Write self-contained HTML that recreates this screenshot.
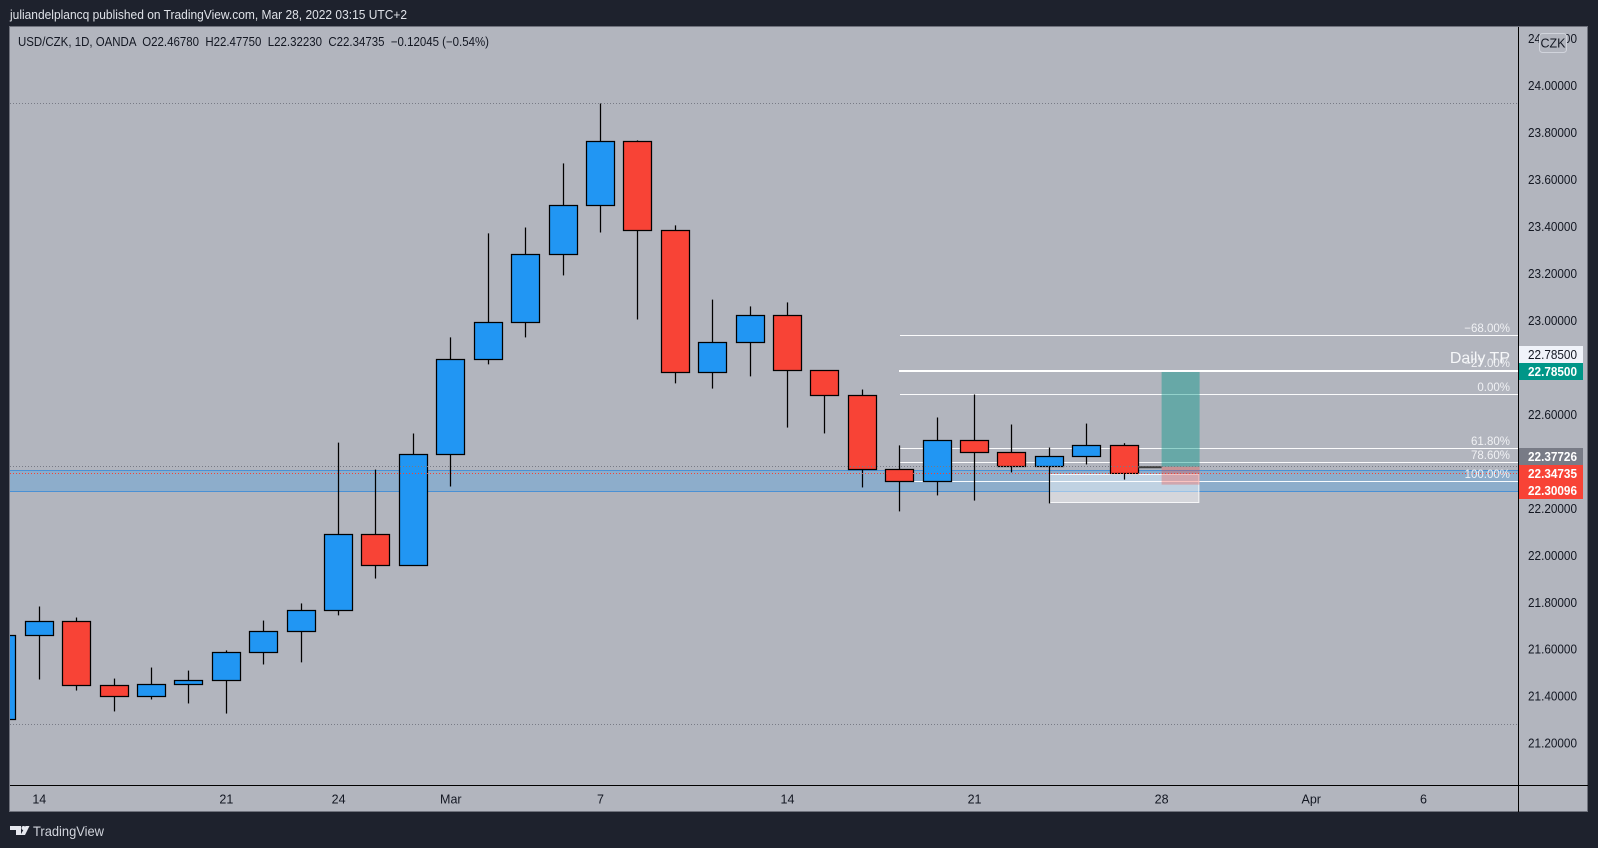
<!DOCTYPE html>
<html lang="en">
<head>
<meta charset="utf-8">
<title>USD/CZK 1D chart</title>
<style>
html,body{margin:0;padding:0;background:#1e222d;width:1598px;height:848px;overflow:hidden}
svg{display:block;font-family:"Liberation Sans",sans-serif}
text{white-space:pre}
</style>
</head>
<body>
<svg id="chart" width="1598" height="848" viewBox="0 0 1598 848" xmlns="http://www.w3.org/2000/svg">
  <defs>
    <clipPath id="paneClip"><rect x="10" y="27" width="1508" height="758"/></clipPath>
  </defs>
  <rect x="0" y="0" width="1598" height="848" fill="#1e222d"/>
  <text x="10" y="19" font-size="13" fill="#dfe2e8" textLength="397" lengthAdjust="spacingAndGlyphs">juliandelplancq published on TradingView.com, Mar 28, 2022 03:15 UTC+2</text>
  <rect x="9.5" y="26.5" width="1578" height="785" fill="#b2b5be" stroke="#6f727c" stroke-width="1"/>
  <g id="drawBelow" clip-path="url(#paneClip)"></g>
  <g id="candles" clip-path="url(#paneClip)"></g>
  <g id="drawAbove" clip-path="url(#paneClip)"></g>
  <g id="fibText"></g>
  <line x1="1518.5" y1="27" x2="1518.5" y2="812" stroke="#000" stroke-width="1"/>
  <line x1="10" y1="785.5" x2="1588" y2="785.5" stroke="#000" stroke-width="1"/>
  <g id="priceAxis"></g>
  <g id="timeAxis"></g>
  <text x="18" y="46" font-size="12.5" fill="#131722" textLength="471" lengthAdjust="spacingAndGlyphs">USD/CZK, 1D, OANDA  O22.46780  H22.47750  L22.32230  C22.34735  −0.12045 (−0.54%)</text>
  <g>
    <rect x="1539.5" y="33.5" width="27" height="19" rx="3" fill="#b2b5be" stroke="#d1d4dc" stroke-width="1"/>
    <text x="1553" y="47.5" font-size="12.5" fill="#131722" text-anchor="middle">CZK</text>
  </g>
  <g id="priceTags"></g>
  <g>
    <path d="M10 826h11v9h-5v-5h-6z M25.500 826h4l-4.500 9h-4.500z" fill="#e6e8ee"/>
    <circle cx="23.500" cy="828" r="2" fill="#e6e8ee"/>
    <text x="33" y="836" font-size="14" fill="#d1d4dc" textLength="71" lengthAdjust="spacingAndGlyphs">TradingView</text>
  </g>
</svg>
<script>
const categories = ['Feb 11','Feb 14','Feb 15','Feb 16','Feb 17','Feb 18','Feb 21','Feb 22','Feb 23','Feb 24','Feb 25','Feb 28','Mar 1','Mar 2','Mar 3','Mar 4','Mar 7','Mar 8','Mar 9','Mar 10','Mar 11','Mar 14','Mar 15','Mar 16','Mar 17','Mar 18','Mar 21','Mar 22','Mar 23','Mar 24','Mar 25','Mar 28','Mar 29','Mar 30','Mar 31','Apr 1','Apr 4','Apr 5','Apr 6'];
const opens = [21.301,21.658,21.718,21.446,21.399,21.450,21.467,21.586,21.676,21.765,22.089,21.957,22.429,22.834,22.992,23.281,23.490,23.762,23.383,22.779,22.906,23.021,22.787,22.681,22.365,22.314,22.489,22.438,22.378,22.421,22.4678];
const highs = [21.700,21.782,21.735,21.475,21.522,21.509,21.595,21.722,21.795,22.480,22.365,22.519,22.928,23.371,23.396,23.669,23.924,23.767,23.405,23.089,23.060,23.077,22.787,22.706,22.468,22.587,22.685,22.557,22.459,22.561,22.4775];
const lows = [21.280,21.471,21.424,21.335,21.386,21.369,21.326,21.535,21.544,21.744,21.901,21.957,22.293,22.813,22.928,23.192,23.375,23.004,22.732,22.710,22.762,22.544,22.519,22.289,22.187,22.255,22.233,22.353,22.221,22.387,22.3223];
const closes = [21.658,21.718,21.446,21.399,21.450,21.467,21.586,21.676,21.765,22.089,21.957,22.429,22.834,22.992,23.281,23.490,23.762,23.383,22.779,22.906,23.021,22.787,22.681,22.365,22.314,22.489,22.438,22.378,22.421,22.468,22.34735];
const priceTicks = [24.2,24.0,23.8,23.6,23.4,23.2,23.0,22.8,22.6,22.4,22.2,22.0,21.8,21.6,21.4,21.2];
const timeTickCategories = ['Feb 14','Feb 21','Feb 24','Mar 1','Mar 7','Mar 14','Mar 21','Mar 28','Apr 1','Apr 6'];
const timeTickLabels = ['14','21','24','Mar','7','14','21','28','Apr','6'];
const fibLevels = [-0.68,-0.27,0,0.618,0.786,1];
const fibLabels = ['−68.00%','−27.00%','0.00%','61.80%','78.60%','100.00%'];
const fibAnchorHigh = 22.685;
const fibAnchorLow = 22.314;
const dottedHigh = 23.924;
const dottedLow = 21.280;
const lastPrice = 22.37726;
const closePrice = 22.34735;
const targetPrice = 22.785;
const stopPrice = 22.30096;
const zoneTop = 22.360;
const zoneBottom = 22.270;
const boxTop = 22.345;
const boxBottom = 22.223;

const NS = 'http://www.w3.org/2000/svg';
const PX_PER_PRICE = 234.8;
const X_ZERO = 1.89, X_STEP = 37.41;
function yAt(p){ return 85.7 + (24 - p) * PX_PER_PRICE; }
function xAt(i){ return X_ZERO + X_STEP * i; }
function xOf(cat){ return xAt(categories.indexOf(cat)); }
function snap(v){ return Math.floor(v) + 0.5; }
function mk(tag, parent, attrs){
  const el = document.createElementNS(NS, tag);
  for (const k in attrs) el.setAttribute(k, attrs[k]);
  parent.appendChild(el);
  return el;
}
const below = document.getElementById('drawBelow');
const candlesG = document.getElementById('candles');
const above = document.getElementById('drawAbove');
const fibText = document.getElementById('fibText');
const priceAxis = document.getElementById('priceAxis');
const timeAxis = document.getElementById('timeAxis');
const priceTags = document.getElementById('priceTags');

/* support zone */
const zone = mk('rect', below, {x:10, y:snap(yAt(zoneTop)), width:1508, height:snap(yAt(zoneBottom))-snap(yAt(zoneTop)), fill:'#2196f3', 'fill-opacity':0.25});


[zoneTop, zoneBottom].forEach(function(p){
  const l = mk('line', below, {x1:10, x2:1518, y1:snap(yAt(p)), y2:snap(yAt(p)), stroke:'#4a90d4', 'stroke-width':1});
  
  
});

/* white selection box */
const box = mk('rect', below, {x:xOf('Mar 23')+0.5, y:snap(yAt(boxTop)), width:149, height:snap(yAt(boxBottom))-snap(yAt(boxTop)), fill:'#ffffff', 'fill-opacity':0.45, stroke:'#ffffff', 'stroke-opacity':0.85, 'stroke-width':1});



/* fib levels */
fibLevels.forEach(function(level, i){
  const p = fibAnchorHigh + (fibAnchorLow - fibAnchorHigh) * level;
  const y = snap(yAt(p));
  const l = mk('line', below, {x1:900, x2:1518, y1:y, y2:y, stroke:'#ffffff', 'stroke-opacity':0.95, 'stroke-width':1});
  
  
  const t = mk('text', fibText, {x:1510, y:y-3.5, 'font-size':11.5, fill:'#f0f1f4', 'text-anchor':'end'});
  t.textContent = fibLabels[i];
  
  
});

/* Daily TP line */
const tpLine = mk('line', below, {x1:899, x2:1518, y1:yAt(targetPrice), y2:yAt(targetPrice), stroke:'#ffffff', 'stroke-width':2});


const tpText = mk('text', fibText, {x:1510, y:363, 'font-size':16, fill:'#f6f7f9', 'text-anchor':'end'});
tpText.textContent = 'Daily TP';



/* candles */
opens.forEach(function(o, i){
  const c = closes[i], up = c >= o;
  const x = snap(xAt(i));
  const wick = mk('line', candlesG, {x1:x, x2:x, y1:yAt(highs[i]), y2:yAt(lows[i]), stroke:'#000', 'stroke-width':1.25});
  
  
  const top = snap(yAt(Math.max(o, c))), bot = snap(yAt(Math.min(o, c)));
  const body = mk('rect', candlesG, {x:x-14, y:top, width:28, height:bot-top, fill:up ? '#2196f3' : '#f84336', stroke:'#000', 'stroke-width':1.25});
  
  
});

/* long position tool */
const posX = xOf('Mar 28');
const tealRect = mk('rect', above, {x:posX, y:yAt(targetPrice)+1, width:38, height:yAt(lastPrice)-yAt(targetPrice)-1, fill:'#009688', 'fill-opacity':0.42});


const redRect = mk('rect', above, {x:posX, y:yAt(lastPrice), width:38, height:yAt(stopPrice)-yAt(lastPrice), fill:'#f44336', 'fill-opacity':0.3});



/* dotted price lines */
const dotted = [
  {p:dottedHigh, c:'#787b86', n:'high-dotted-line'},
  {p:dottedLow, c:'#787b86', n:'low-dotted-line'},
  {p:lastPrice, c:'#787b86', n:'last-price-dotted-line'},
  {p:closePrice, c:'#f44336', n:'close-price-dotted-line'}
];
dotted.forEach(function(d){
  const l = mk('line', above, {x1:10, x2:1518, y1:snap(yAt(d.p)), y2:snap(yAt(d.p)), stroke:d.c, 'stroke-width':1, 'stroke-dasharray':'1 2'});
  
  
});
const stub = mk('line', above, {x1:xAt(categories.indexOf('Mar 25'))+14, x2:posX, y1:yAt(lastPrice)+0.5, y2:yAt(lastPrice)+0.5, stroke:'#3f3f3f', 'stroke-width':2});



/* price axis */
priceTicks.forEach(function(p){
  const t = mk('text', priceAxis, {x:1528, y:yAt(p)+4.5, 'font-size':12.5, fill:'#131722', textLength:49, lengthAdjust:'spacingAndGlyphs'});
  t.textContent = p.toFixed(5);
  
  
});

/* time axis */
timeTickCategories.forEach(function(cat, i){
  const t = mk('text', timeAxis, {x:xOf(cat), y:803.5, 'font-size':12.5, fill:'#131722', 'text-anchor':'middle'});
  t.textContent = timeTickLabels[i];
  
  
});

/* price tags (stacked to avoid overlap, as on the axis) */
function tag(y, h, bg, fg, value, name){
  const r = mk('rect', priceTags, {x:1519, y:y, width:64, height:h, fill:bg});
  
  
  const t = mk('text', priceTags, {x:1528, y:y+h/2+4.5, 'font-size':12.5, fill:fg, textLength:49, lengthAdjust:'spacingAndGlyphs', 'font-weight':fg === '#ffffff' ? 'bold' : 'normal'});
  t.textContent = value.toFixed(5);
  
  
}
tag(346, 17, '#f0f3fa', '#131722', targetPrice, 'daily-tp-price-tag');
tag(363, 17, '#009688', '#ffffff', targetPrice, 'target-price-tag');
tag(448, 17, '#787b86', '#ffffff', lastPrice, 'entry-price-tag');
tag(465, 17, '#f84336', '#ffffff', closePrice, 'close-price-tag');
tag(482, 17, '#f84336', '#ffffff', stopPrice, 'stop-price-tag');
</script>
</body>
</html>
